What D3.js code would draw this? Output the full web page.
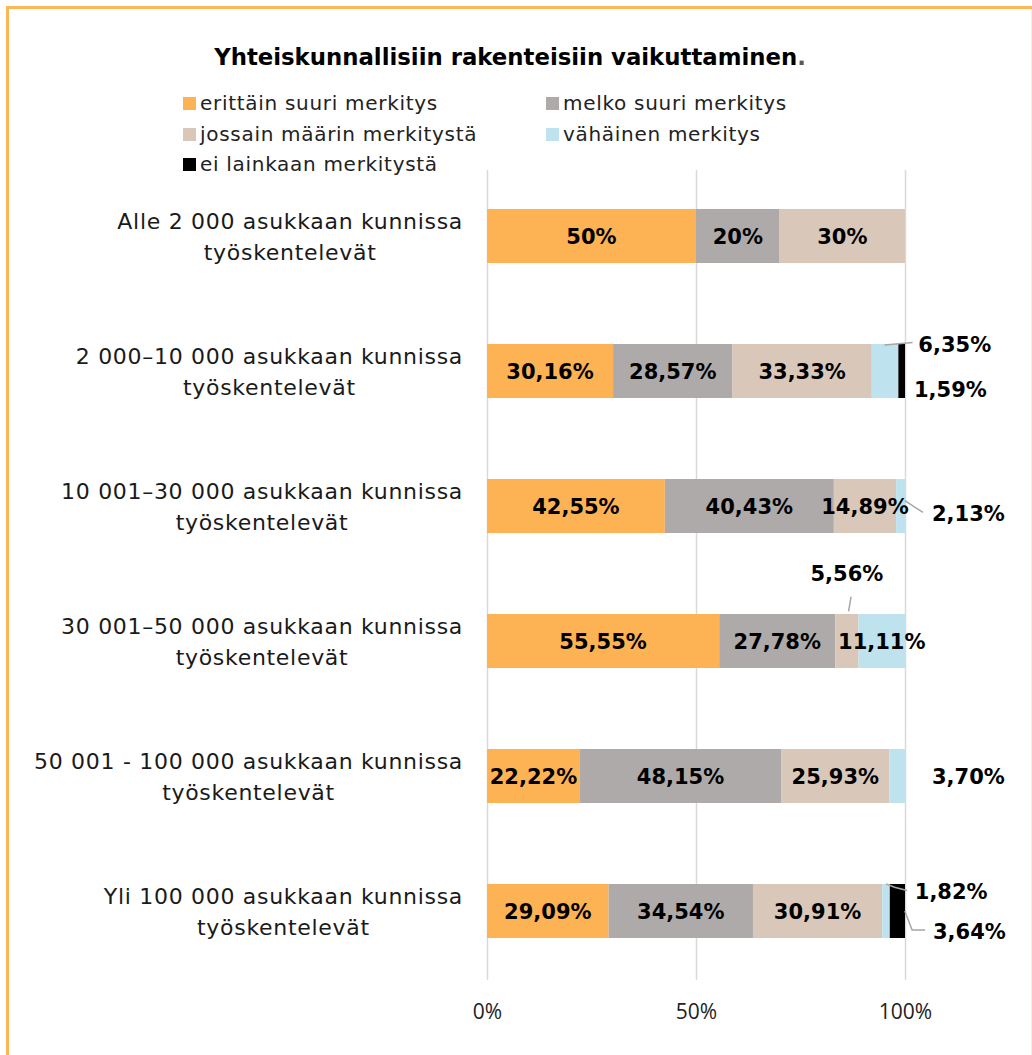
<!DOCTYPE html>
<html>
<head>
<meta charset="utf-8">
<script src="https://cdn.jsdelivr.net/npm/d3@7"></script>
<style>
  body { margin: 0; background: #fff; }
  svg { display: block; }
</style>
</head>
<body>
<div id="vis"></div>
<script>
// frame size
const WIDTH = 1032;
const HEIGHT = 1055;

// data
const categories = [
  ["Alle 2 000 asukkaan kunnissa", "työskentelevät"],
  ["2 000–10 000 asukkaan kunnissa", "työskentelevät"],
  ["10 001–30 000 asukkaan kunnissa", "työskentelevät"],
  ["30 001–50 000 asukkaan kunnissa", "työskentelevät"],
  ["50 001 - 100 000 asukkaan kunnissa", "työskentelevät"],
  ["Yli 100 000 asukkaan kunnissa", "työskentelevät"]
];
const seriesNames = ["erittäin suuri merkitys", "melko suuri merkitys", "jossain määrin merkitystä", "vähäinen merkitys", "ei lainkaan merkitystä"];
const erittain = [50, 30.16, 42.55, 55.55, 22.22, 29.09];
const melko    = [20, 28.57, 40.43, 27.78, 48.15, 34.54];
const jossain  = [30, 33.33, 14.89, 5.56, 25.93, 30.91];
const vahainen = [0, 6.35, 2.13, 11.11, 3.70, 1.82];
const eiLainkaan = [0, 1.59, 0, 0, 0, 3.64];
const labelText = [
  ["50%", "20%", "30%", "", ""],
  ["30,16%", "28,57%", "33,33%", "6,35%", "1,59%"],
  ["42,55%", "40,43%", "14,89%", "2,13%", ""],
  ["55,55%", "27,78%", "5,56%", "11,11%", ""],
  ["22,22%", "48,15%", "25,93%", "3,70%", ""],
  ["29,09%", "34,54%", "30,91%", "1,82%", "3,64%"]
];
const ticks = [0, 0.5, 1];

const COLORS = ["#FDB353", "#AEAAA9", "#D9C8BA", "#BEE3EE", "#000000"];
const FONT = "'DejaVu Sans', 'Open Sans', sans-serif";

// labels placed outside the bar, offsets from the segment's right end / row centre
const outside = {
  "1-3": {anchor: "start", dx: 20, dy: -27},
  "1-4": {anchor: "start", dx: 9, dy: 18},
  "2-3": {anchor: "start", dx: 27, dy: 7},
  "3-2": {anchor: "middle", dx: null, dy: -68},
  "4-3": {anchor: "start", dx: 27, dy: 0},
  "5-3": {anchor: "start", dx: 25, dy: -20},
  "5-4": {anchor: "start", dx: 28, dy: 20}
};

const svg = d3.select("#vis").append("svg")
  .attr("width", WIDTH)
  .attr("height", HEIGHT);

// frame
svg.append("line").attr("x1", 7.5).attr("x2", 7.5).attr("y1", 6).attr("y2", HEIGHT)
  .attr("stroke", "#FBB65A").attr("stroke-width", 3);
svg.append("line").attr("x1", 6).attr("x2", WIDTH).attr("y1", 7.5).attr("y2", 7.5)
  .attr("stroke", "#FBB65A").attr("stroke-width", 3);
svg.append("line").attr("x1", 1031.5).attr("x2", 1031.5).attr("y1", 9).attr("y2", HEIGHT)
  .attr("stroke", "#F8EDE6").attr("stroke-width", 1);

// scales
const X_SCALE = d3.scaleLinear().domain([0, 1]).range([487, 905]);
const Y_SCALE = d3.scaleBand()
  .domain(d3.range(categories.length))
  .range([168.5, 978.5])
  .paddingInner(0.6)
  .paddingOuter(0.3);

// title
const title = svg.append("text")
  .attr("x", 510).attr("y", 65)
  .attr("text-anchor", "middle")
  .attr("font-family", FONT)
  .attr("font-size", 22.8)
  .attr("font-weight", "bold")
  .attr("fill", "#000");
title.append("tspan").text("Yhteiskunnallisiin rakenteisiin vaikuttaminen");
title.append("tspan").attr("fill", "#595959").text(".");

// legend
const legendPos = [[183, 103], [546, 103], [183, 134], [546, 134], [183, 164]];
seriesNames.forEach((name, i) => {
  const g = svg.append("g").attr("transform", "translate(" + legendPos[i][0] + "," + legendPos[i][1] + ")");
  g.append("rect").attr("x", 0).attr("y", -6).attr("width", 13).attr("height", 13).attr("fill", COLORS[i]);
  g.append("text").attr("x", 17).attr("y", 7)
    .attr("font-family", FONT).attr("font-size", 20).attr("letter-spacing", 0.7).attr("fill", "#222")
    .text(name);
});

// gridlines
svg.append("g").selectAll("line")
  .data(ticks)
  .enter().append("line")
  .attr("x1", d => X_SCALE(d) + 0.5).attr("x2", d => X_SCALE(d) + 0.5)
  .attr("y1", 170).attr("y2", 980)
  .attr("stroke", "#D9D9D9").attr("stroke-width", 1.5);

// x axis
const xAxis = svg.append("g")
  .attr("transform", "translate(0,1019)")
  .call(d3.axisBottom(X_SCALE).tickValues(ticks).tickFormat(d3.format(".0%")).tickSize(0));
xAxis.select(".domain").remove();
xAxis.selectAll("text")
  .attr("font-family", "'Open Sans', sans-serif")
  .attr("font-size", 21)
  .attr("fill", "#222")
  .attr("y", 0)
  .attr("dy", 0);

// stacked data
const rows = categories.map((c, i) => ({
  i: i,
  values: [erittain[i], melko[i], jossain[i], vahainen[i], eiLainkaan[i]]
}));
const segs = [];
rows.forEach(r => {
  let acc = 0;
  r.values.forEach((v, s) => {
    segs.push({row: r.i, s: s, x0: acc / 100, x1: (acc + v) / 100, v: v, label: labelText[r.i][s]});
    acc += v;
  });
});

svg.append("g").selectAll("rect")
  .data(segs.filter(d => d.v > 0))
  .enter().append("rect")
  .attr("x", d => X_SCALE(d.x0))
  .attr("y", d => Y_SCALE(d.row))
  .attr("width", d => X_SCALE(d.x1) - X_SCALE(d.x0))
  .attr("height", Y_SCALE.bandwidth())
  .attr("fill", d => COLORS[d.s]);

// leader lines (x in data units, y in bandwidths from row centre)
const leaders = [
  {row: 1, s: 3, pts: [[0.951, -0.48], [1.018, -0.53]]},
  {row: 2, s: 3, pts: [[0.9995, -0.1], [1.043, 0.12]]},
  {row: 3, s: 2, pts: [[0.865, -0.55], [0.871, -0.82]]},
  {row: 5, s: 3, pts: [[0.955, -0.5], [0.975, -0.44], [1.005, -0.38]]},
  {row: 5, s: 4, pts: [[0.9995, 0.0], [1.017, 0.35], [1.048, 0.35]]}
];
const line = d3.line();
svg.append("g").selectAll("path")
  .data(leaders)
  .enter().append("path")
  .attr("d", d => line(d.pts.map(p => [X_SCALE(p[0]), Y_SCALE(d.row) + Y_SCALE.bandwidth() / 2 + p[1] * Y_SCALE.bandwidth()])))
  .attr("fill", "none")
  .attr("stroke", "#A6A6A6")
  .attr("stroke-width", 1.5);

// data labels
svg.append("g").selectAll("text")
  .data(segs.filter(d => d.label !== ""))
  .enter().append("text")
  .attr("x", d => {
    const o = outside[d.row + "-" + d.s];
    const cx = (X_SCALE(d.x0) + X_SCALE(d.x1)) / 2;
    if (!o || o.dx === null) return cx;
    return X_SCALE(d.x1) + o.dx;
  })
  .attr("y", d => {
    const o = outside[d.row + "-" + d.s];
    const cy = Y_SCALE(d.row) + Y_SCALE.bandwidth() / 2;
    return o ? cy + o.dy : cy;
  })
  .attr("dy", "0.36em")
  .attr("text-anchor", d => {
    const o = outside[d.row + "-" + d.s];
    return o ? o.anchor : "middle";
  })
  .attr("font-family", FONT)
  .attr("font-size", 21)
  .attr("font-weight", "bold")
  .attr("fill", "#000")
  .text(d => d.label);

// category labels
categories.forEach((lines, i) => {
  const cy = Y_SCALE(i) + Y_SCALE.bandwidth() / 2;
  const t1 = svg.append("text")
    .attr("x", 463).attr("y", cy - 15)
    .attr("dy", "0.35em")
    .attr("text-anchor", "end")
    .attr("font-family", FONT)
    .attr("font-size", 22)
    .attr("letter-spacing", 0.7)
    .attr("fill", "#1a1a1a")
    .text(lines[0]);
  const w = t1.node().getComputedTextLength();
  svg.append("text")
    .attr("x", 463 - w / 2).attr("y", cy + 16)
    .attr("dy", "0.35em")
    .attr("text-anchor", "middle")
    .attr("font-family", FONT)
    .attr("font-size", 22)
    .attr("letter-spacing", 0.7)
    .attr("fill", "#1a1a1a")
    .text(lines[1]);
});
</script>
</body>
</html>
